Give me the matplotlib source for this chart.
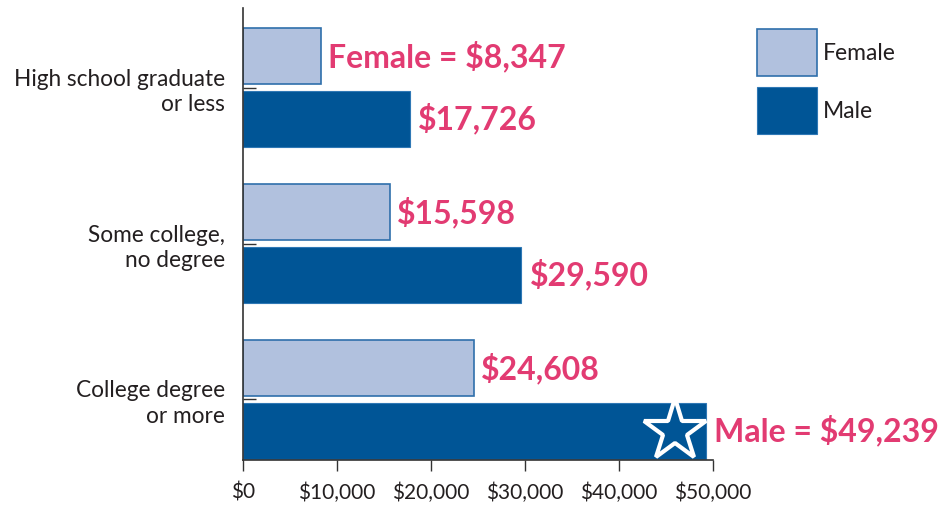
import matplotlib
matplotlib.use("Agg")
import matplotlib.pyplot as plt
from matplotlib.patches import Rectangle
import numpy as np

categories = ["High school graduate\nor less", "Some college,\nno degree", "College degree\nor more"]
female = [8347, 15598, 24608]
male = [17726, 29590, 49239]
female_labels = ["Female = $8,347", "$15,598", "$24,608"]
male_labels = ["$17,726", "$29,590", "Male = $49,239"]
xticks = [0, 10000, 20000, 30000, 40000, 50000]
xticklabels = ["$0", "$10,000", "$20,000", "$30,000", "$40,000", "$50,000"]

FEM_FILL = "#b1c1de"
FEM_EDGE = "#2f6fab"
MALE_FILL = "#005596"
PINK = "#e23b72"
TXT = "#231f20"

plt.rcParams["font.family"] = ["Lato", "DejaVu Sans"]

fig = plt.figure(figsize=(9.5, 5.08), dpi=100)
ax = fig.add_axes([243/950, 1-460/508, 470/950, 452/508])

y = np.arange(len(categories))
h = 0.36
ax.barh(y - 0.2, female, height=h, color=FEM_FILL, edgecolor=FEM_EDGE, linewidth=1.2)
ax.barh(y + 0.2, male, height=h, color=MALE_FILL, edgecolor="#2f78b5", linewidth=0.8)

for i in range(len(categories)):
    ax.annotate(female_labels[i], (female[i], y[i] - 0.2), xytext=(5, 0),
                textcoords="offset points", va="center", ha="left",
                color=PINK, fontsize=23, fontweight="bold")
    ax.annotate(male_labels[i], (male[i], y[i] + 0.2), xytext=(6, 0),
                textcoords="offset points", va="center", ha="left",
                color=PINK, fontsize=23, fontweight="bold")

# star on the top male bar
ax.plot([45950], [y[-1] + 0.2], marker="*", markersize=47, markerfacecolor="none",
        markeredgecolor="white", markeredgewidth=3)

ax.set_xlim(0, 50000)
ax.set_ylim(2.388, -0.51)
ax.set_xticks(xticks)
ax.set_xticklabels(xticklabels, fontsize=15, color=TXT)
ax.set_yticks(y)
ax.set_yticklabels(categories, fontsize=16.3, color=TXT, linespacing=1.25)
ax.tick_params(axis="x", direction="out", length=8, width=1, color="#333333", pad=8)
ax.tick_params(axis="y", direction="in", length=9, width=1, color="#333333", pad=13)
for lab in ax.get_yticklabels():
    lab.set_horizontalalignment("right")

for s in ["top", "right"]:
    ax.spines[s].set_visible(False)
for s in ["left", "bottom"]:
    ax.spines[s].set_color("#333333")
    ax.spines[s].set_linewidth(1.2)

# legend
fig.add_artist(Rectangle((757/950, 1-76/508), 60/950, 47/508, transform=fig.transFigure,
                         facecolor=FEM_FILL, edgecolor=FEM_EDGE, linewidth=1.2))
fig.add_artist(Rectangle((757/950, 1-134/508), 60/950, 47/508, transform=fig.transFigure,
                         facecolor=MALE_FILL, edgecolor="#2f78b5", linewidth=0.8))
fig.text(823/950, 1-53/508, "Female", fontsize=16.5, color=TXT, va="center", ha="left")
fig.text(823/950, 1-112/508, "Male", fontsize=16.5, color=TXT, va="center", ha="left")

fig.savefig("out.png", dpi=100)
